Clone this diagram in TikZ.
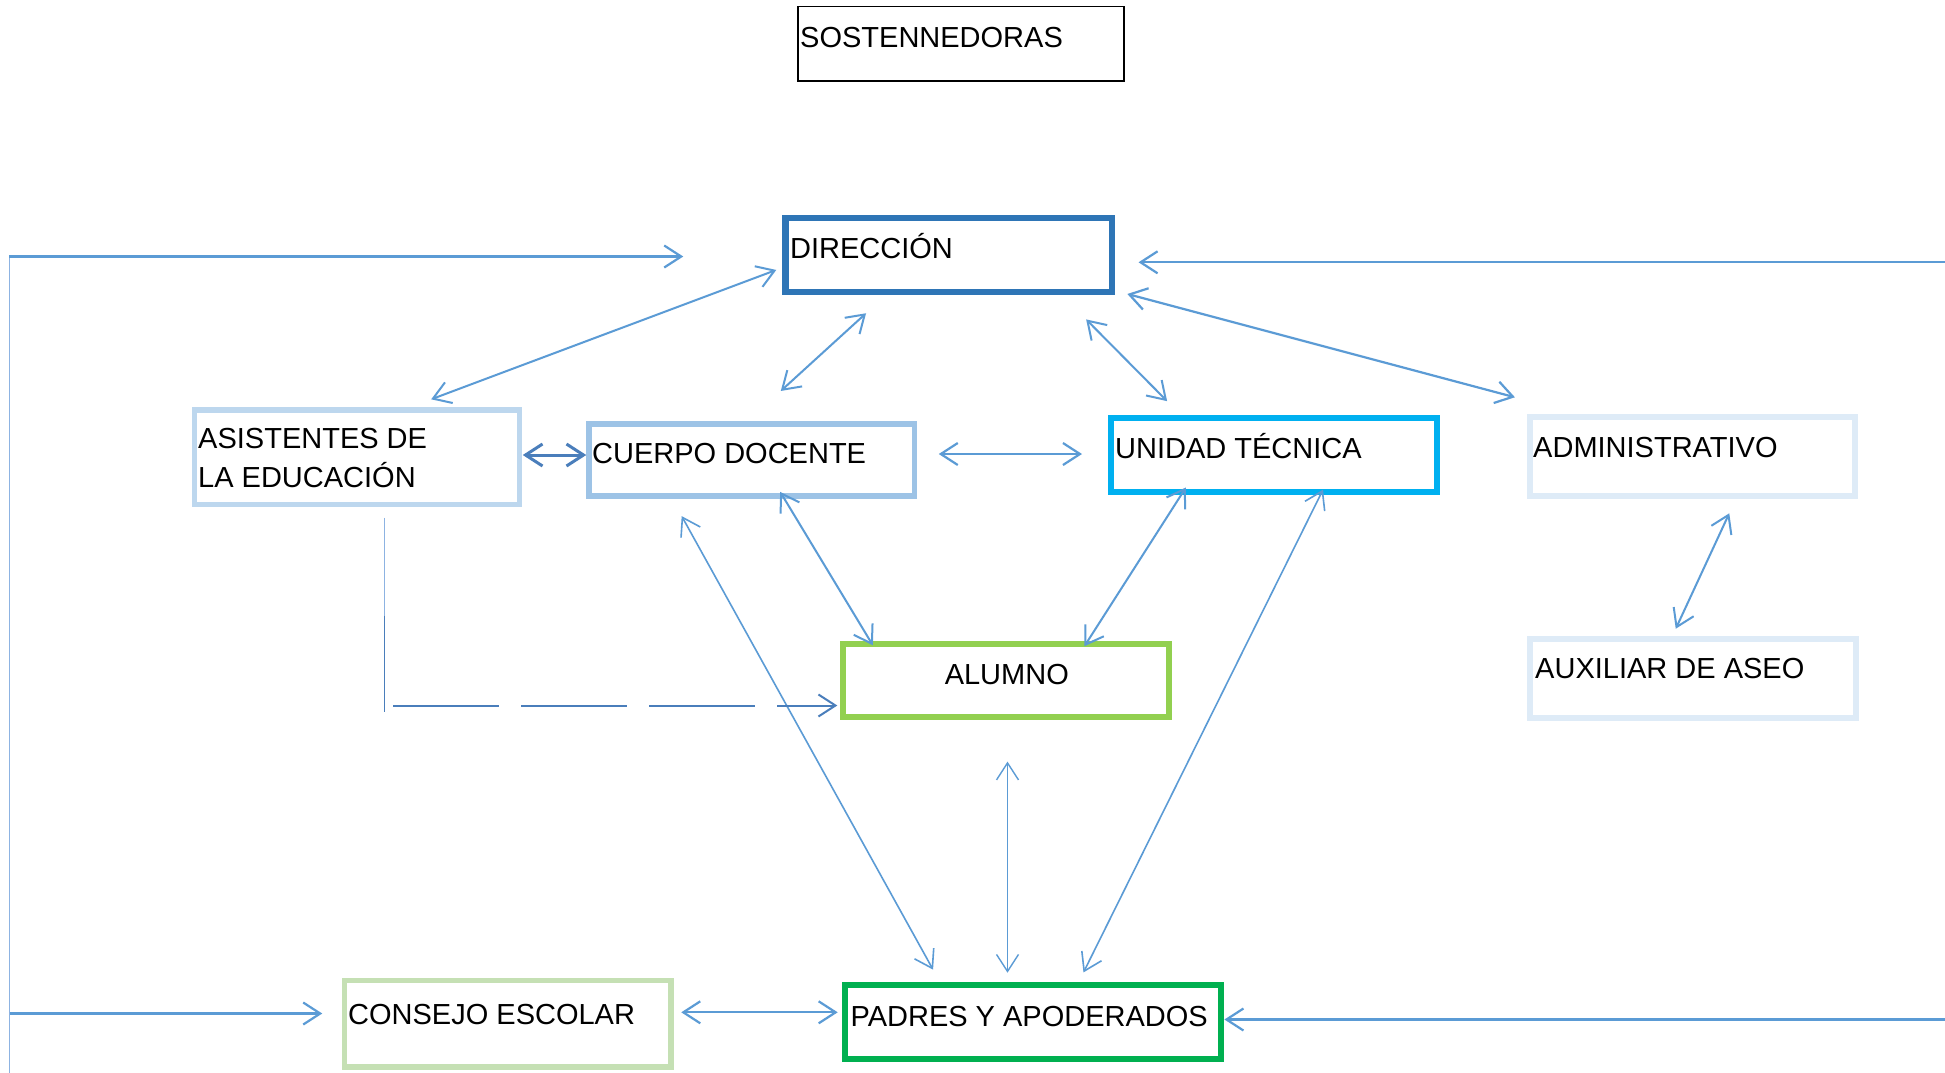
\documentclass[tikz,border=0pt]{standalone}
\usepackage{fontspec}
\setmainfont{Liberation Sans}
\usetikzlibrary{arrows.meta,calc}
\definecolor{lineblue}{HTML}{5B9BD5}
\definecolor{darkline}{HTML}{4A7EBB}
\definecolor{faintline}{HTML}{8DB3E2}
\definecolor{cDir}{HTML}{2E75B6}
\definecolor{cAsist}{HTML}{BDD7EE}
\definecolor{cCuerpo}{HTML}{9DC3E6}
\definecolor{cUnidad}{HTML}{00B0F0}
\definecolor{cAdmin}{HTML}{DEEBF7}
\definecolor{cAlumno}{HTML}{92D050}
\definecolor{cConsejo}{HTML}{C5E0B4}
\definecolor{cPadres}{HTML}{00B050}
\begin{document}
\begin{tikzpicture}[x=1pt,y=-1pt,
  box/.style={draw, inner sep=0pt, line width=5.5pt},
  lbl/.style={anchor=base west, inner sep=0pt, text=black, font=\fontsize{29}{35}\selectfont},
  lblc/.style={anchor=base, inner sep=0pt, text=black, font=\fontsize{29}{35}\selectfont},
  both/.style={draw=lineblue, line width=2pt, shorten >=-3pt, shorten <=-3pt, {Straight Barb[length=17pt,width=22pt]}-{Straight Barb[length=17pt,width=22pt]}},
  oneway/.style={draw=lineblue, line width=2.2pt, shorten >=-3pt, -{Straight Barb[length=17pt,width=22pt]}}
]
\fill[white] (0,0) rectangle (1945,1072);
\useasboundingbox (0,0) rectangle (1945,1072);

% boxes
\node[draw=black, line width=1.3pt, inner sep=0pt, minimum width=326pt, minimum height=74.5pt] (sost) at (961,43.75) {};
\node[box, draw=cDir, line width=6.5pt, minimum width=326.3pt, minimum height=74pt] (dir) at (948.85,255) {};
\node[box, draw=cAsist, minimum width=325pt, minimum height=94.5pt] (asist) at (357,457.25) {};
\node[box, draw=cCuerpo, minimum width=325.5pt, minimum height=72pt] (cuerpo) at (751.75,460) {};
\node[box, draw=cUnidad, line width=6pt, minimum width=326.3pt, minimum height=74pt] (unidad) at (1273.85,455) {};
\node[box, draw=cAdmin, line width=6pt, minimum width=325pt, minimum height=79pt] (admin) at (1692.5,456.5) {};
\node[box, draw=cAdmin, line width=6pt, minimum width=326pt, minimum height=79pt] (aux) at (1693,678.5) {};
\node[box, draw=cAlumno, line width=6pt, minimum width=325.7pt, minimum height=73pt] (alumno) at (1005.85,680.5) {};
\node[box, draw=cConsejo, minimum width=326.5pt, minimum height=86.5pt] (consejo) at (507.75,1023.75) {};
\node[box, draw=cPadres, line width=6pt, minimum width=376pt, minimum height=74pt] (padres) at (1033.4,1021.7) {};

% texts
\node[lbl] (sostT) at (800,47) {SOSTENNEDORAS};
\node[lbl] (dirT) at (790,258.3) {DIRECCIÓN};
\node[lbl] (asistT1) at (198,448) {ASISTENTES DE};
\node[lbl] (asistT2) at (198,487) {LA EDUCACIÓN};
\node[lbl] (cuerpoT) at (592,463) {CUERPO DOCENTE};
\node[lbl] (unidadT) at (1115,458.3) {UNIDAD TÉCNICA};
\node[lbl] (adminT) at (1533,457) {ADMINISTRATIVO};
\node[lbl] (auxT) at (1535,678) {AUXILIAR DE ASEO};
\node[lblc] (alumnoT) at (1006.8,684) {ALUMNO};
\node[lbl] (consejoT) at (348,1024) {CONSEJO ESCOLAR};
\node[lbl] (padresT) at (850.4,1026.7) {PADRES Y APODERADOS};

% connectors around DIRECCION
\draw[both] ($(dir.west)+(-9,16)$) -- ($(asist.north)+(77,-9)$);
\draw[both] ($(dir.south)+(-85,20)$) -- ($(cuerpo.north)+(31.25,-32.3)$);
\draw[both] ($(dir.south east)+(-27,26.3)$) -- ($(unidad.north west)+(57.3,-16)$);
\draw[both, line width=2.2pt] ($(dir.south east)+(15,-0.5)$) -- ($(admin.north west)+(-15,-17.5)$);

% middle row
\draw[both, draw=darkline, line width=3pt] ($(asist.east)+(3.5,-2.25)$) -- ($(cuerpo.west)+(-3,-5)$);
\draw[both, line width=2.2pt] ($(cuerpo.east)+(24.5,-6)$) -- ($(unidad.west)+(-28.7,-1)$);

% to ALUMNO
\draw[both] ($(cuerpo.south)+(30,-4.3)$) -- ($(alumno.north west)+(31.3,1.7)$);
\draw[both] ($(unidad.south west)+(76.6,-5)$) -- ($(alumno.north)+(80.15,2.7)$);

% to PADRES
\draw[both, line width=1.6pt] ($(cuerpo.south west)+(96.9,20)$) -- ($(padres.north west)+(89.2,-14.7)$);
\draw[both, line width=1.6pt] ($(unidad.south)+(47.85,-2.7)$) -- ($(padres.north)+(51.4,-12)$);
\draw[both, line width=1.4pt] ($(alumno.south)+(1.65,44.6)$) -- ($(padres.north)+(-25.9,-12)$);
\draw[both, line width=2.2pt] ($(consejo.east)+(10.5,-11.45)$) -- ($(padres.west)+(-7.7,-9.4)$);

% administrativo - auxiliar
\draw[both] ($(admin.south)+(35.5,17)$) -- ($(aux.north)+(-16,-10)$);

% dashed connector asistentes -> alumno
\draw[faintline, line width=1pt] ($(asist.south)+(27.5,10.5)$) coordinate (d0) -- ++(0,98) coordinate (d1);
\draw[darkline, line width=1.4pt] (d1) -- ++(0,96.5);
\draw[darkline, line width=2pt, dash pattern=on 106pt off 22pt, shorten >=-3pt, -{Straight Barb[length=17pt,width=22pt]}]
  ($(alumno.west)+(-447,25)$) -- ($(alumno.west)+(-5.7,25)$);

% outer frame lines
\coordinate (lt) at ($(dir.west)+(-773.2,1.5)$);
\draw[faintline, line width=1.3pt] (lt) -- ++(0,820);
\draw[oneway] (lt) -- ($(dir.west)+(-102.2,1.5)$);
\draw[oneway] ($(consejo.west)+(-332,-10.25)$) -- ($(consejo.west)+(-22.5,-10.25)$);
\draw[oneway] ($(dir.east)+(840,7.3)$) -- ($(dir.east)+(26.3,7.3)$);
\draw[oneway] ($(padres.east)+(730,-2.2)$) -- ($(padres.east)+(3,-2.2)$);
\end{tikzpicture}
\end{document}
